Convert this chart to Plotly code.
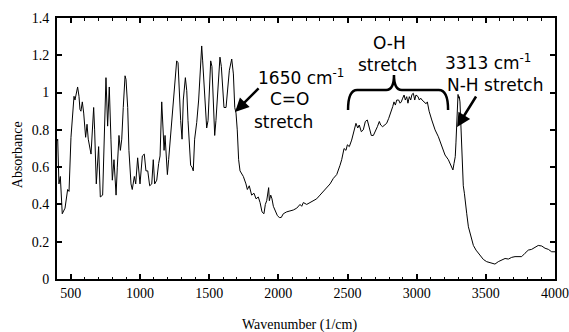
import plotly.graph_objects as go

wavenumber = [400, 405, 414, 424, 438, 458, 477, 487, 501, 523, 530, 545, 549, 559, 566, 573, 583, 593,
              607, 617, 626, 646, 655, 665, 672, 684, 701, 713, 730, 742, 754, 766, 778, 790, 800, 812,
              819, 827, 836, 848, 858, 868, 879, 892, 899, 911, 920, 935, 944, 959, 969, 983, 1000,
              1017, 1031, 1043, 1056, 1070,
              1085, 1096, 1106, 1121, 1135, 1145, 1157, 1164, 1174, 1181, 1188, 1198, 1207, 1222, 1236,
              1253, 1265, 1275, 1284, 1294, 1304, 1313, 1328, 1338, 1347, 1357, 1366, 1376, 1385, 1395,
              1410, 1424, 1434, 1446, 1453, 1463, 1472, 1482, 1492, 1501, 1511, 1520, 1530, 1540, 1549,
              1564, 1578, 1588, 1598, 1607, 1622, 1631, 1646, 1663, 1675, 1685, 1694, 1703, 1713,
              1723, 1747, 1766, 1776, 1790, 1807, 1824, 1839, 1855, 1868, 1882, 1896, 1906, 1916, 1930,
              1935, 1945, 1954, 1964, 1978, 1993, 2007, 2021, 2036, 2060, 2084, 2108, 2133, 2157, 2169,
              2181, 2205, 2229, 2253, 2277, 2301, 2325, 2350, 2374, 2398, 2422, 2446,
              2458, 2475, 2489, 2499, 2513, 2530, 2547, 2561, 2574, 2585, 2600, 2614, 2629, 2643, 2658,
              2672, 2687, 2701, 2716, 2730, 2740, 2754, 2769, 2783, 2798, 2812, 2827, 2836, 2846, 2856,
              2870, 2880, 2889, 2899, 2909, 2918, 2928, 2937, 2947, 2957, 2966, 2976, 2986, 2995, 3010,
              3019, 3029, 3039, 3053, 3068, 3077,
              3090, 3109, 3133, 3157, 3181, 3205, 3229, 3253, 3262,
              3270, 3279, 3284, 3289, 3294, 3299, 3304, 3308, 3313, 3318, 3323, 3328, 3333, 3337, 3345,
              3352, 3362, 3374, 3386, 3398, 3410, 3429, 3446, 3463, 3482,
              3506, 3542, 3566, 3590, 3615, 3639, 3663, 3687, 3711, 3735, 3759, 3783, 3807, 3831, 3855,
              3879, 3904, 3928, 3952, 3976, 4000]

absorbance = [0.74, 0.75, 0.51, 0.55, 0.35, 0.38, 0.48, 0.47, 0.76, 0.98, 0.96, 1.02, 1.03, 0.98, 0.91, 0.90, 0.95, 0.89,
              0.76, 0.83, 0.75, 0.67, 0.81, 0.92, 0.80, 0.51, 0.71, 0.44, 0.45, 0.75, 1.08, 0.82, 1.03, 0.75, 0.53, 0.64,
              0.53, 0.45, 0.60, 0.77, 0.69, 0.75, 0.92, 1.09, 1.07, 0.92, 0.69, 0.51, 0.48, 0.55, 0.51, 0.65, 0.51,
              0.66, 0.67, 0.58, 0.58, 0.50,
              0.51, 0.64, 0.51, 0.53, 0.62, 0.66, 0.95, 0.85, 0.69, 0.77, 0.67, 0.56, 0.64, 0.78, 0.92,
              1.07, 1.17, 1.16, 1.00, 0.85, 0.75, 0.96, 1.08, 1.01, 0.85, 0.71, 0.61, 0.60, 0.58, 0.75,
              0.84, 0.96, 1.07, 1.25, 1.17, 1.05, 0.91, 0.81, 0.85, 1.03, 1.17, 1.14, 0.92, 0.77, 0.85,
              1.01, 1.19, 1.14, 1.01, 0.92, 0.92, 1.01, 1.12, 1.18, 1.10, 0.92, 0.89, 0.80, 0.64,
              0.58, 0.55, 0.51, 0.48, 0.50, 0.45, 0.46, 0.43, 0.44, 0.41, 0.36, 0.35, 0.40, 0.42, 0.49,
              0.42, 0.45, 0.43, 0.39, 0.37, 0.34, 0.33, 0.33, 0.35, 0.36, 0.365, 0.37, 0.38, 0.40, 0.39,
              0.41, 0.40, 0.41, 0.42, 0.43, 0.45, 0.47, 0.49, 0.51, 0.54, 0.56, 0.61,
              0.64, 0.70, 0.69, 0.72, 0.71, 0.745, 0.79, 0.835, 0.81, 0.826, 0.79, 0.80, 0.845, 0.853, 0.81,
              0.77, 0.77, 0.79, 0.817, 0.845, 0.826, 0.817, 0.826, 0.835, 0.862, 0.889, 0.925, 0.95, 0.933, 0.96,
              0.96, 0.943, 0.95, 0.97, 0.987, 0.96, 0.978, 0.943, 0.978, 0.96, 0.99, 0.996, 0.96, 0.987, 0.978,
              0.96, 0.97, 0.96, 0.95, 0.94, 0.95,
              0.90, 0.853, 0.80, 0.763, 0.71, 0.665, 0.64, 0.60, 0.585,
              0.62, 0.656, 0.73, 0.81, 0.907, 0.99, 0.97, 0.978, 0.95, 0.853, 0.78, 0.66, 0.567, 0.50, 0.46,
              0.406, 0.35, 0.28, 0.245, 0.21, 0.18, 0.155, 0.138, 0.12, 0.105,
              0.093, 0.084, 0.08, 0.093, 0.102, 0.11, 0.107, 0.116, 0.12, 0.118, 0.12, 0.138, 0.155, 0.159, 0.17,
              0.18, 0.177, 0.165, 0.159, 0.146, 0.146]

x_tick_values = [500, 1000, 1500, 2000, 2500, 3000, 3500, 4000]
y_tick_values = [0, 0.2, 0.4, 0.6, 0.8, 1.0, 1.2, 1.4]
y_tick_labels = ["0", "0.2", "0.4", "0.6", "0.8", "1", "1.2", "1.4"]

x_title = "Wavenumber (1/cm)"
y_title = "Absorbance"

fig = go.Figure()
fig.add_trace(go.Scatter(x=wavenumber, y=absorbance, mode="lines",
                         line=dict(color="black", width=1), showlegend=False, hoverinfo="skip"))

serif = "Liberation Serif, Times New Roman, serif"
sans = "DejaVu Sans, sans-serif"

fig.update_layout(
    width=569, height=332,
    margin=dict(l=57, r=14, t=18, b=53),
    paper_bgcolor="white", plot_bgcolor="white",
    font=dict(family=serif, size=14, color="black"),
    xaxis=dict(range=[400, 4000], tickvals=x_tick_values, ticks="inside", ticklen=5, tickwidth=1.5,
               tickcolor="black", showline=True, linecolor="black", linewidth=2, mirror="allticks",
               showgrid=False, zeroline=False, ticklabelstandoff=0, automargin=False,
               minor=dict(dtick=100, tick0=0, ticks="inside", ticklen=2.5, tickcolor="black", tickwidth=1),
               tickfont=dict(family=serif, size=14)),
    yaxis=dict(range=[0, 1.4], tickvals=y_tick_values, ticktext=y_tick_labels, ticks="inside", ticklen=5,
               tickwidth=1.5, tickcolor="black", showline=True, linecolor="black", linewidth=2,
               mirror="allticks", showgrid=False, zeroline=False, ticklabelstandoff=3, automargin=False,
               tickfont=dict(family=serif, size=14)),
)

# axis titles (placed as annotations to keep the plot-area geometry fixed)
fig.add_annotation(text=x_title, xref="paper", yref="paper", x=0.487, y=-0.176, showarrow=False,
                   xanchor="center", yanchor="middle", font=dict(family=serif, size=14, color="black"))
fig.add_annotation(text=y_title, xref="paper", yref="paper", x=-0.080, y=0.475, showarrow=False,
                   textangle=-90, xanchor="center", yanchor="middle",
                   font=dict(family=serif, size=14, color="black"))

ann_font = dict(family=sans, size=17, color="black")
texts = [
    ("1650 cm<sup>-1</sup>", 2164, 1.084),
    ("C=O", 2084, 0.966),
    ("stretch", 2034, 0.842),
    ("O-H", 2800, 1.266),
    ("stretch", 2786, 1.148),
    ("3313 cm<sup>-1</sup>", 3516, 1.164),
    ("N-H stretch", 3566, 1.041),
]
for t, x, y in texts:
    fig.add_annotation(text=t, x=x, y=y, xref="x", yref="y", showarrow=False, font=ann_font,
                       xanchor="center", yanchor="middle")

arrows = [((1868, 1.030), (1687, 0.896)), ((3436, 0.987), (3292, 0.815))]
for (tx, ty), (hx, hy) in arrows:
    fig.add_annotation(x=hx, y=hy, ax=tx, ay=ty, xref="x", yref="y", axref="x", ayref="y",
                       text="", showarrow=True, arrowhead=2, arrowsize=1.1, arrowwidth=2.5,
                       arrowcolor="black")

# curly brace over O-H region
brace = ("M 2504,0.907 Q 2504,1.014 2570,1.014 L 2780,1.014 Q 2836,1.014 2836,1.094 "
         "Q 2836,1.014 2892,1.014 L 3160,1.014 Q 3227,1.014 3227,0.907")
fig.add_shape(type="path", path=brace, xref="x", yref="y", line=dict(color="black", width=2.5))

fig.write_html("out.html")
